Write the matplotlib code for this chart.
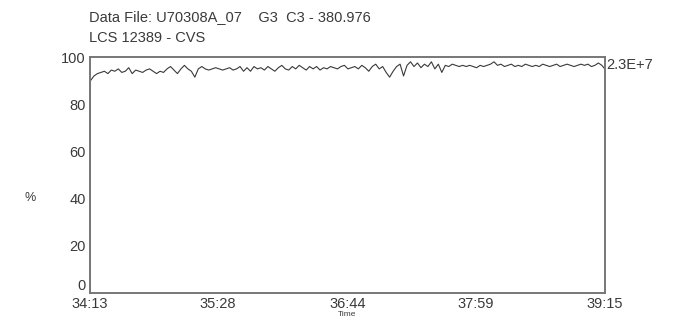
#!/usr/bin/env python3

import matplotlib
matplotlib.use("Agg")
import matplotlib.pyplot as plt
from matplotlib.ticker import FixedLocator, FuncFormatter


# trace, one reading every ~2 s from 34:13 onward
start_sec = 34 * 60 + 13
end_sec = 39 * 60 + 15
purity = [
    0, 90, 92, 93, 93.5, 94, 93, 94.5, 94, 95,
    93.5, 94, 95.5, 93, 94.5, 94, 93.5, 94.5, 95, 94,
    93, 94, 93.5, 95, 96, 94.5, 93, 95, 96.5, 95,
    94, 91.5, 95, 96, 95, 94.5, 95, 95.5, 95, 94.5,
    95, 95.5, 94.5, 95, 96, 94, 95.5, 94, 96, 95,
    95.5, 94.5, 96, 95, 94, 95.5, 96.5, 95, 94.5, 96,
    95, 96.5, 95.5, 94.5, 96, 95, 96, 94.5, 95.5, 95,
    96, 95.5, 95, 96, 96.5, 95, 95.5, 96, 95, 96.5,
    95.5, 94, 96, 97, 95, 96, 93.5, 91.5, 94, 96,
    97, 92, 96.5, 98, 96, 97.5, 95.5, 97, 96, 98,
    95, 97, 93.5, 96.5, 96, 97, 96.5, 96, 96.5, 96,
    96.5, 96, 95.5, 96.5, 96, 96.5, 97, 98, 96.5, 97,
    96, 96.5, 97, 96, 96.5, 96, 97, 96.5, 96, 96.5,
    96, 97, 96.5, 96, 96.5, 97, 96, 96.5, 97, 96.5,
    96, 96.5, 97, 96.5, 97, 96, 96.5, 97.5, 96.5, 95,
]
tick_secs = [34 * 60 + 13, 35 * 60 + 28, 36 * 60 + 44, 37 * 60 + 59, 39 * 60 + 15]
y_ticks = [0, 20, 40, 60, 80, 100]

title_line1 = "Data File: U70308A_07    G3  C3 - 380.976"
title_line2 = "LCS 12389 - CVS"
right_label = "2.3E+7"


def mmss(value, _pos=None):
    value = int(round(value))
    return f"{value // 60}:{value % 60:02d}"


def main() -> None:
    plt.rcParams["font.family"] = ["Liberation Sans", "DejaVu Sans"]

    # first reading is the baseline at the start line; detector jumps up right away
    n = len(purity)
    step = (end_sec - start_sec) / (n - 2)
    times = [start_sec] + [start_sec + 0.3 + step * i for i in range(n - 1)]
    times[-1] = end_sec

    fig = plt.figure(figsize=(6.92, 3.30), dpi=100)
    ax = fig.add_axes([0.130, 0.112, 0.744, 0.715])
    ax.plot(times, purity, color="#3a3a3a", linewidth=0.8)

    ax.set_xlim(start_sec, end_sec)
    ax.set_ylim(0, 100)
    ax.xaxis.set_major_locator(FixedLocator(tick_secs))
    ax.xaxis.set_major_formatter(FuncFormatter(mmss))
    ax.set_yticks(y_ticks)
    ax.tick_params(length=0, labelsize=10.5, colors="#3a3a3a", pad=3)
    ax.get_yticklabels()[0].set_va("bottom")
    for spine in ax.spines.values():
        spine.set_color("#777777")
        spine.set_linewidth(1.4)

    ax.set_xlabel("Time", fontsize=6, color="#3a3a3a", labelpad=0)
    fig.text(0.043, 0.40, "%", fontsize=9, color="#3a3a3a", ha="center", va="center")
    ax.text(1.003, 0.965, right_label, transform=ax.transAxes, fontsize=10.5,
            color="#3a3a3a", ha="left", va="center")
    fig.text(0.129, 0.948, title_line1, fontsize=10.5, color="#3a3a3a", ha="left", va="center")
    fig.text(0.129, 0.885, title_line2, fontsize=10.5, color="#3a3a3a", ha="left", va="center")

    fig.savefig("out.png", dpi=100)
    plt.close(fig)


if __name__ == "__main__":
    main()
